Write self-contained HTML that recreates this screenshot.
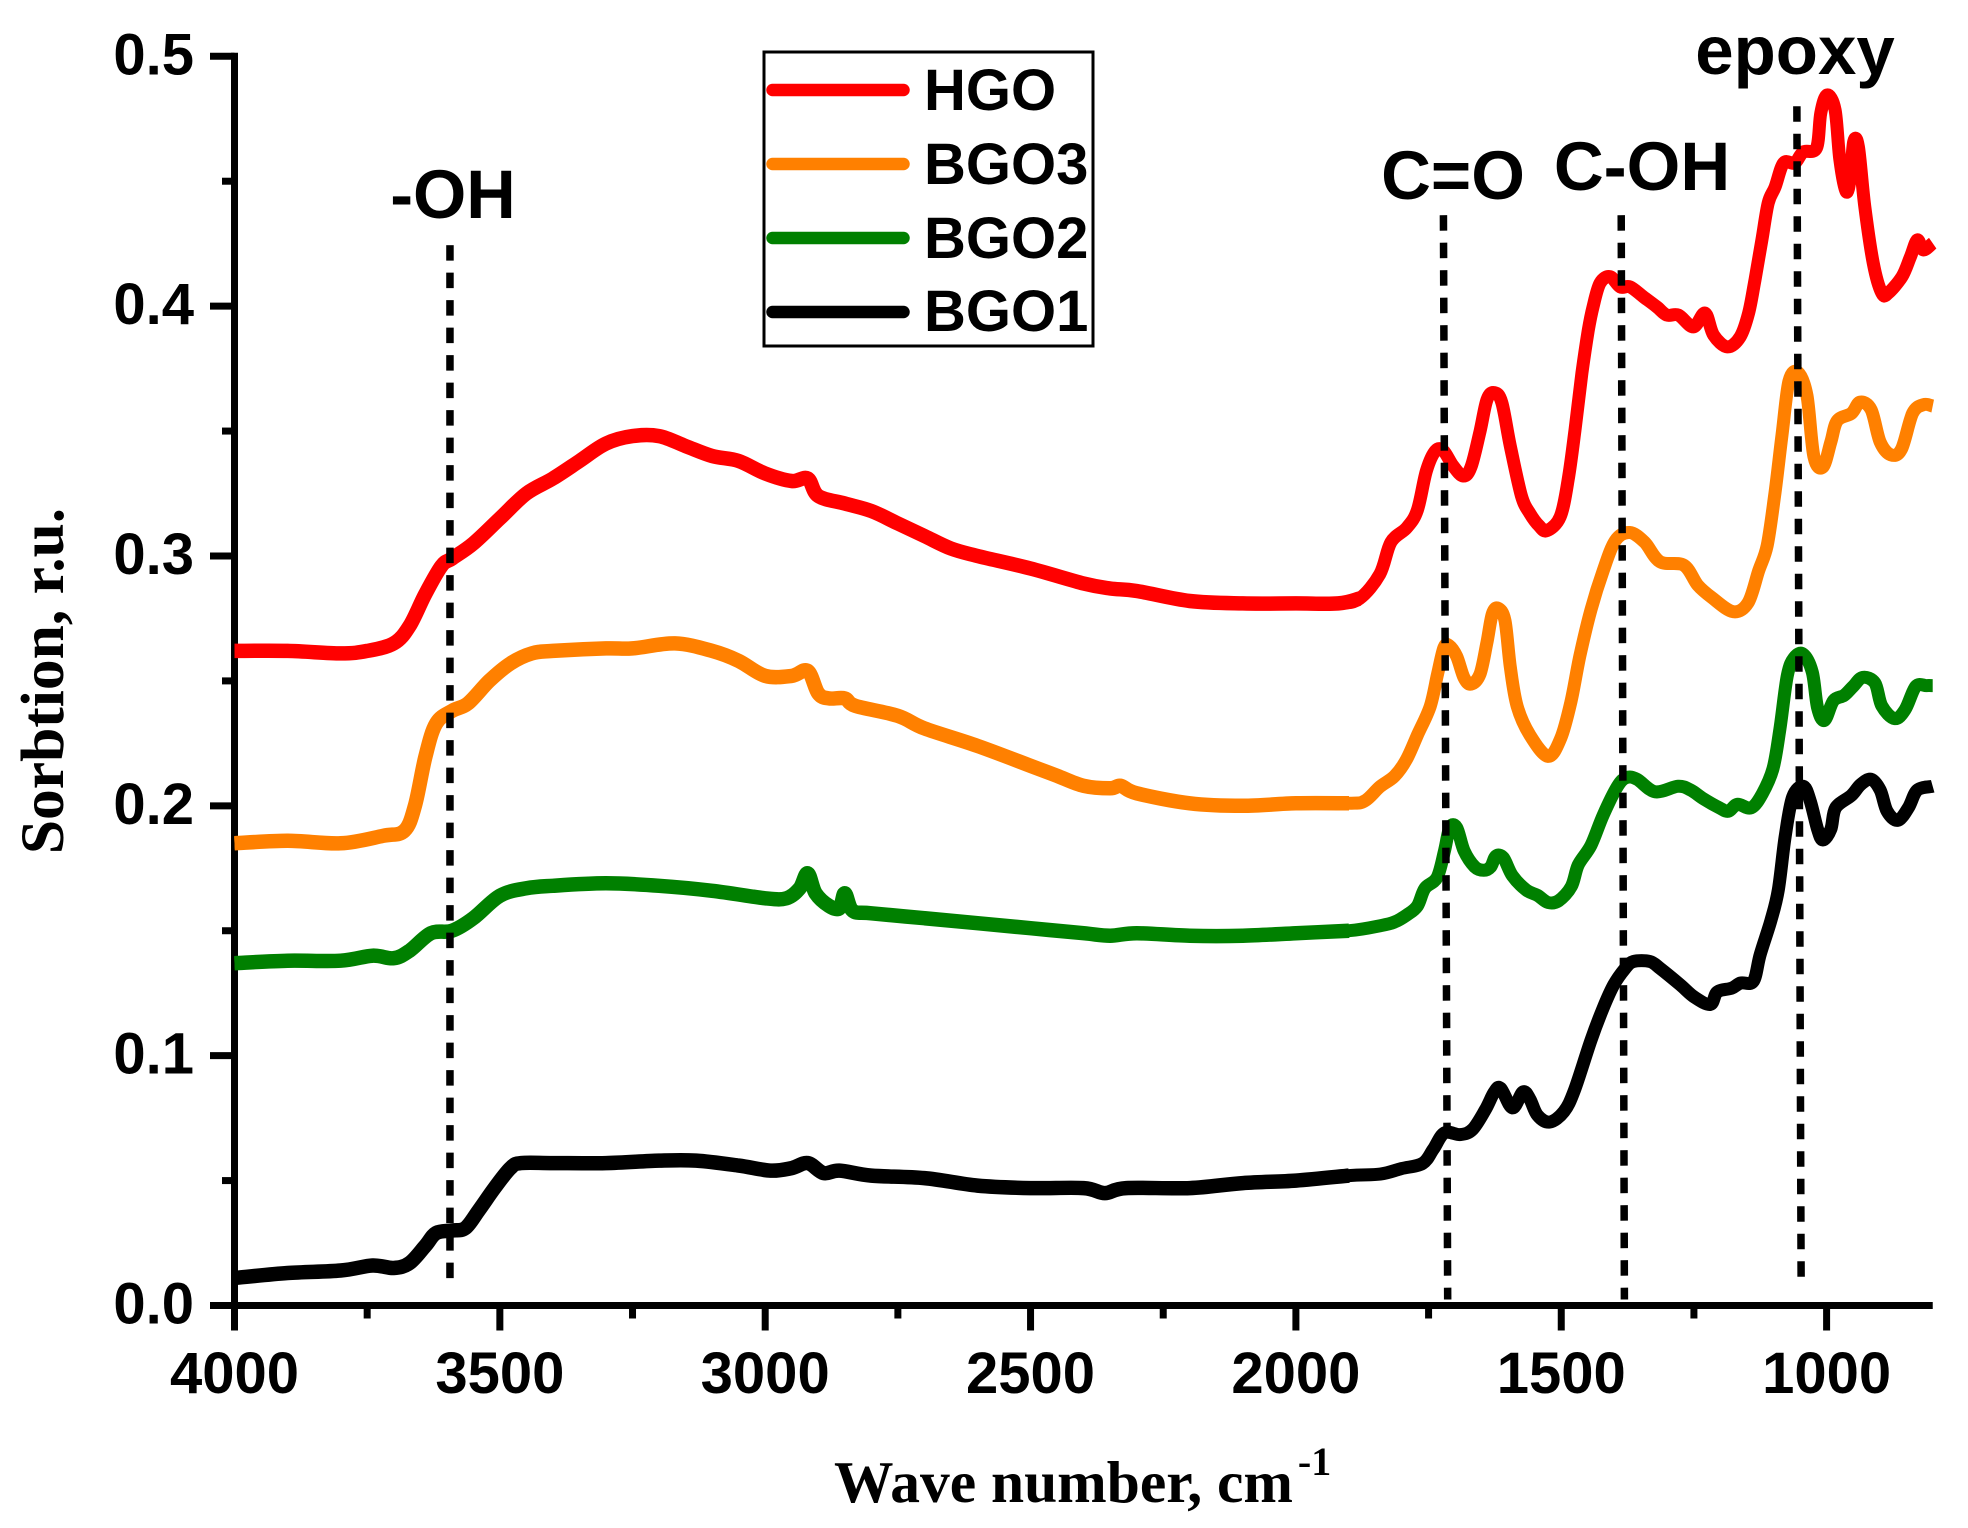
<!DOCTYPE html>
<html>
<head>
<meta charset="utf-8">
<title>Sorption spectra</title>
<style>
html,body{margin:0;padding:0;background:#fff;width:1968px;height:1528px;overflow:hidden}
svg{display:block}
text{fill:#000}
.sans{font-family:"Liberation Sans",sans-serif;font-weight:700}
.serif{font-family:"Liberation Serif",serif;font-weight:700}
</style>
</head>
<body>
<svg id="chart" xmlns="http://www.w3.org/2000/svg" width="1968" height="1528" viewBox="0 0 1968 1528">
  <g id="axis-layer"></g>
  <g id="series-layer"></g>
  <g id="marker-layer"></g>
  <text class="sans" font-size="68.5" text-anchor="middle" x="453" y="218">-OH</text>
  <text class="sans" font-size="69" text-anchor="middle" x="1453" y="199">C=O</text>
  <text class="sans" font-size="69" text-anchor="middle" x="1642" y="190">C-OH</text>
  <text class="sans" font-size="69" text-anchor="middle" x="1795" y="74">epoxy</text>
  <text class="serif" font-size="61.5" text-anchor="middle" transform="translate(63,681) rotate(-90)">Sorbtion, r.u.</text>
  <text class="serif" font-size="59.5" x="834" y="1502">Wave number, cm<tspan font-size="40" dx="5" dy="-27">-1</tspan></text>
  <g>
    <rect x="764" y="52" width="329" height="294" fill="none" stroke="#000" stroke-width="3"/>
    <g>
      <line x1="772.5" x2="903.5" y1="90" y2="90" stroke="#ff0000" stroke-width="12.5" stroke-linecap="round"/>
      <text class="sans" font-size="58" x="924" y="110">HGO</text>
    </g>
    <g>
      <line x1="772.5" x2="903.5" y1="164" y2="164" stroke="#ff8000" stroke-width="12.5" stroke-linecap="round"/>
      <text class="sans" font-size="58" x="924" y="184">BGO3</text>
    </g>
    <g>
      <line x1="772.5" x2="903.5" y1="238" y2="238" stroke="#008000" stroke-width="12.5" stroke-linecap="round"/>
      <text class="sans" font-size="58" x="924" y="258">BGO2</text>
    </g>
    <g>
      <line x1="772.5" x2="903.5" y1="312" y2="312" stroke="#000" stroke-width="12.5" stroke-linecap="round"/>
      <text class="sans" font-size="58" x="924" y="331">BGO1</text>
    </g>
  </g>
</svg>
<script>
const hgoWave = [4000,3900,3800,3750,3700,3670,3640,3610,3590,3550,3500,3450,3400,3350,3300,3250,3200,3150,3100,3050,3000,2950,2920,2900,2850,2800,2750,2700,2650,2600,2500,2400,2350,2300,2200,2100,2000,1920,1880,1842,1821,1791,1771,1754,1737,1722,1704,1685,1670,1653,1640,1626,1612,1596,1575,1559,1542,1527,1502,1487,1474,1461,1449,1440,1427,1408,1389,1370,1345,1320,1301,1279,1251,1229,1213,1187,1163,1147,1135,1122,1110,1097,1081,1060,1044,1019,1011,999,984,975,963,955,949,940,928,912,896,884,858,842,829,818,800];
const hgoValues = [.262,.262,.261,.262,.265,.272,.285,.296,.299,.305,.315,.325,.331,.338,.345,.348,.348,.344,.340,.338,.333,.330,.331,.324,.321,.318,.313,.308,.303,.300,.295,.289,.287,.286,.282,.281,.281,.281,.283,.2927,.3055,.3113,.3184,.3342,.3421,.3421,.3361,.3320,.3356,.3500,.3626,.3654,.3614,.3440,.3241,.3170,.3121,.3101,.3157,.3304,.3504,.3732,.3904,.3998,.4092,.4118,.4077,.4077,.4037,.3997,.3964,.3964,.3917,.3972,.3884,.3837,.3877,.3972,.4105,.4265,.4413,.4477,.4573,.4573,.4617,.4633,.4773,.4845,.4785,.4585,.4458,.4518,.4658,.4638,.4398,.4171,.4052,.4052,.4118,.4198,.4265,.4225,.4252];
const bgo3Wave = [4000,3900,3800,3720,3680,3660,3640,3620,3590,3560,3520,3480,3440,3400,3300,3250,3170,3100,3050,3000,2950,2920,2900,2880,2850,2830,2750,2700,2600,2500,2450,2400,2350,2330,2300,2200,2100,2000,1900,1870,1842,1814,1792,1771,1747,1733,1721,1711,1697,1683,1670,1653,1640,1630,1619,1606,1596,1583,1559,1525,1501,1482,1465,1444,1421,1398,1371,1343,1314,1269,1243,1216,1176,1148,1128,1112,1098,1084,1071,1054,1037,1024,1007,992,980,953,937,916,899,879,859,838,817,800];
const bgo3Values = [.185,.186,.185,.188,.190,.200,.220,.233,.238,.241,.250,.257,.261,.262,.263,.263,.265,.262,.258,.252,.252,.254,.245,.243,.243,.240,.236,.231,.224,.216,.212,.208,.207,.208,.205,.201,.200,.201,.201,.202,.2076,.2119,.2184,.2283,.2398,.2528,.2634,.2641,.2598,.2512,.2487,.2528,.2655,.2768,.2791,.2741,.2556,.2398,.2283,.2198,.2270,.2414,.2599,.2785,.2941,.3062,.3094,.3055,.2977,.2963,.2884,.2833,.2777,.2813,.2941,.3042,.3241,.3484,.3699,.3735,.3642,.3398,.3356,.3456,.3541,.3571,.3616,.3585,.3456,.3405,.3427,.3571,.3606,.3600];
const bgo2Wave = [4000,3900,3800,3740,3700,3670,3630,3590,3550,3500,3450,3400,3300,3200,3100,3000,2960,2935,2920,2905,2880,2860,2850,2835,2800,2700,2600,2500,2400,2350,2300,2200,2100,2000,1900,1841,1815,1791,1771,1757,1734,1720,1710,1697,1683,1663,1646,1633,1623,1609,1592,1566,1545,1525,1505,1481,1468,1444,1421,1394,1377,1357,1323,1280,1256,1232,1202,1185,1168,1142,1121,1101,1088,1074,1061,1044,1027,1017,1004,987,967,950,932,909,896,872,852,832,812,800];
const bgo2Values = [.137,.138,.138,.140,.139,.142,.149,.150,.155,.164,.167,.168,.169,.168,.166,.163,.163,.167,.173,.165,.160,.159,.165,.158,.157,.155,.153,.151,.149,.148,.149,.148,.148,.149,.150,.1520,.1534,.1563,.1599,.1670,.1713,.1820,.1913,.1913,.1820,.1756,.1742,.1756,.1799,.1792,.1720,.1663,.1642,.1613,.1620,.1677,.1763,.1842,.1963,.2078,.2113,.2106,.2056,.2078,.2063,.2028,.1992,.1978,.2006,.1992,.2049,.2149,.2307,.2521,.2593,.2607,.2535,.2392,.2342,.2421,.2442,.2478,.2514,.2492,.2400,.2349,.2385,.2478,.2481,.2481];
const bgo1Wave = [4000,3900,3800,3740,3700,3670,3640,3620,3590,3565,3540,3510,3480,3460,3400,3300,3200,3130,3050,2990,2950,2920,2890,2860,2800,2700,2600,2500,2400,2360,2320,2200,2100,2000,1900,1841,1801,1761,1741,1720,1690,1667,1643,1626,1614,1592,1572,1559,1545,1522,1495,1475,1444,1421,1401,1380,1364,1333,1313,1276,1249,1219,1206,1179,1162,1138,1125,1105,1091,1078,1064,1044,1031,1017,1007,992,983,953,936,916,899,886,866,846,829,800];
const bgo1Values = [.011,.013,.014,.016,.015,.017,.024,.029,.030,.031,.038,.047,.055,.057,.057,.057,.058,.058,.056,.054,.055,.057,.053,.054,.052,.051,.048,.047,.047,.045,.047,.047,.049,.050,.052,.0526,.0548,.0569,.0626,.0691,.0684,.0705,.0784,.0855,.0869,.0791,.0855,.0826,.0762,.0734,.0776,.0862,.1062,.1191,.1284,.1348,.1377,.1377,.1348,.1284,.1234,.1205,.1255,.1270,.1291,.1298,.1406,.1541,.1663,.1878,.2035,.2078,.2021,.1906,.1863,.1906,.1992,.2042,.2085,.2106,.2063,.1978,.1942,.1992,.2063,.2078];
const xMajorTicks = [4000,3500,3000,2500,2000,1500,1000];
const xMinorTicks = [3750,3250,2750,2250,1750,1250];
const yMajorTicks = ["0.0","0.1","0.2","0.3","0.4","0.5"];
const yMinorTicks = [0.05,0.15,0.25,0.35,0.45];
const bandTopWave = [3594,1722,1387,1056];
const bandBottomWave = [3594,1714,1381,1048];
const bandTopValue = [0.4244,0.4364,0.4364,0.48];
const bandBottomValue = [0.0064,0.0024,0.0024,0.0092];

const NS = 'http://www.w3.org/2000/svg';
function xAxis(w){ return 234.5 + (4000 - w) * 0.5307; }
function yAxis(v){ return 1305.5 - v * 2498.4; }

function mk(tag, parent, attrs){
  const el = document.createElementNS(NS, tag);
  for (const k in attrs) el.setAttribute(k, attrs[k]);
  parent.appendChild(el);
  return el;
}

const seriesLayer = document.getElementById('series-layer');
const markerLayer = document.getElementById('marker-layer');
const axisLayer = document.getElementById('axis-layer');

function smoothPath(pts){
  let d = 'M' + pts[0][0].toFixed(1) + ' ' + pts[0][1].toFixed(1);
  for (let i = 0; i < pts.length - 1; i++){
    const p0 = pts[Math.max(i - 1, 0)], p1 = pts[i], p2 = pts[i + 1], p3 = pts[Math.min(i + 2, pts.length - 1)];
    const c1x = p1[0] + (p2[0] - p0[0]) / 6, c1y = p1[1] + (p2[1] - p0[1]) / 6;
    const c2x = p2[0] - (p3[0] - p1[0]) / 6, c2y = p2[1] - (p3[1] - p1[1]) / 6;
    d += 'C' + c1x.toFixed(1) + ' ' + c1y.toFixed(1) + ' ' + c2x.toFixed(1) + ' ' + c2y.toFixed(1) + ' ' + p2[0].toFixed(1) + ' ' + p2[1].toFixed(1);
  }
  return d;
}

function drawSeries(name, color, waves, values){
  const pts = waves.map((w, i) => [xAxis(w), yAxis(values[i])]);
  const line = mk('path', seriesLayer, {d: smoothPath(pts), fill: 'none', stroke: color, 'stroke-width': 13, 'stroke-linejoin': 'round'});
  
  
  const noisy = pts.filter((p, i) => waves[i] >= 1880);
  const band = mk('path', seriesLayer, {d: smoothPath(noisy), fill: 'none', stroke: color, 'stroke-width': 14.5, 'stroke-linejoin': 'round'});
  
  
}

const yLine = mk('line', axisLayer, {x1: xAxis(4000), x2: xAxis(4000), y1: yAxis(0.5) - 3.5, y2: yAxis(0) + 25, stroke: '#000', 'stroke-width': 7});


const xLine = mk('line', axisLayer, {x1: xAxis(4000) - 24.5, x2: xAxis(800), y1: yAxis(0), y2: yAxis(0), stroke: '#000', 'stroke-width': 7});



yMajorTicks.forEach(label => {
  const v = parseFloat(label);
  const tick = mk('line', axisLayer, {x1: xAxis(4000) - 24.5, x2: xAxis(4000), y1: yAxis(v), y2: yAxis(v), stroke: '#000', 'stroke-width': 7});
  
  
  const t = mk('text', axisLayer, {class: 'sans', 'font-size': 58, 'text-anchor': 'end', x: 194, y: yAxis(v) + 18});
  t.textContent = label;
  
  
});
yMinorTicks.forEach(v => {
  const tick = mk('line', axisLayer, {x1: xAxis(4000) - 12.5, x2: xAxis(4000), y1: yAxis(v), y2: yAxis(v), stroke: '#000', 'stroke-width': 7});
  
  
});
xMajorTicks.forEach(w => {
  const tick = mk('line', axisLayer, {x1: xAxis(w), x2: xAxis(w), y1: yAxis(0), y2: yAxis(0) + 25, stroke: '#000', 'stroke-width': 7});
  
  
  const t = mk('text', axisLayer, {class: 'sans', 'font-size': 58, 'text-anchor': 'middle', x: xAxis(w), y: 1393});
  t.textContent = String(w);
  
  
});
xMinorTicks.forEach(w => {
  const tick = mk('line', axisLayer, {x1: xAxis(w), x2: xAxis(w), y1: yAxis(0), y2: yAxis(0) + 13, stroke: '#000', 'stroke-width': 7});
  
  
});

drawSeries('series-bgo1', '#000000', bgo1Wave, bgo1Values);
drawSeries('series-bgo2', '#008000', bgo2Wave, bgo2Values);
drawSeries('series-bgo3', '#ff8000', bgo3Wave, bgo3Values);
drawSeries('series-hgo', '#ff0000', hgoWave, hgoValues);

bandTopWave.forEach((w, i) => {
  const dash = mk('line', markerLayer, {
    x1: xAxis(w), y1: yAxis(bandTopValue[i]),
    x2: xAxis(bandBottomWave[i]), y2: yAxis(bandBottomValue[i]),
    stroke: '#000', 'stroke-width': 7.5, 'stroke-dasharray': '15.5 12'
  });
  
  
});
</script>
</body>
</html>
